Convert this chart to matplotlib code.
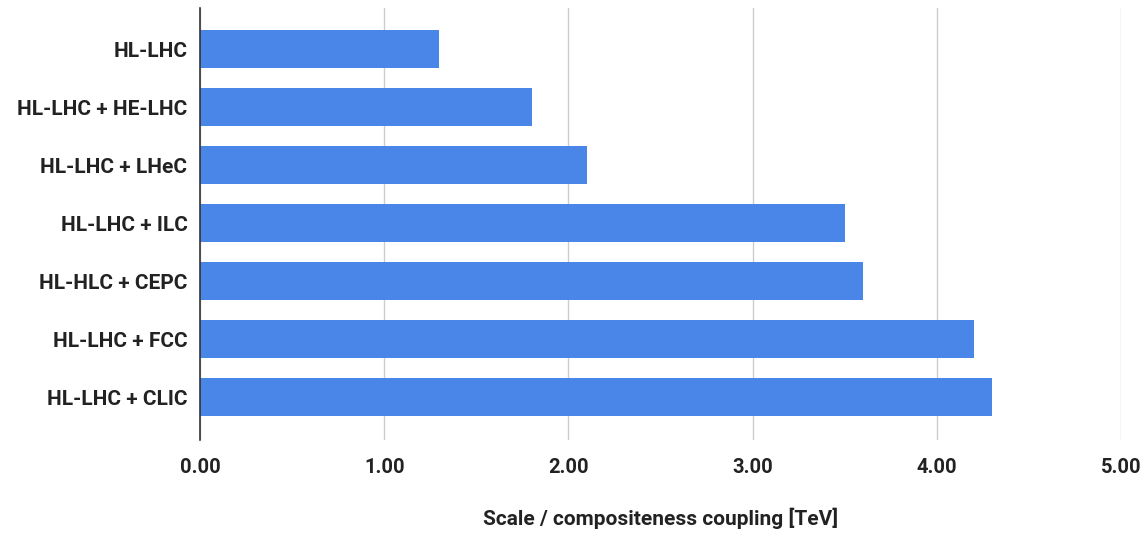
import matplotlib
matplotlib.use("Agg")
import matplotlib.pyplot as plt

categories = ["HL-LHC", "HL-LHC + HE-LHC", "HL-LHC + LHeC", "HL-LHC + ILC",
              "HL-HLC + CEPC", "HL-LHC + FCC", "HL-LHC + CLIC"]
values = [1.30, 1.80, 2.10, 3.50, 3.60, 4.20, 4.30]
xticks = [0, 1, 2, 3, 4, 5]
xticklabels = ["0.00", "1.00", "2.00", "3.00", "4.00", "5.00"]
xlabel = "Scale / compositeness coupling [TeV]"

plt.rcParams['font.family'] = ['Roboto', 'DejaVu Sans']

fig = plt.figure(figsize=(11.45, 5.33), dpi=100)
ax = fig.add_axes([200/1145, 1-440/533, (1121-200)/1145, (440-8)/533])

ypos = list(range(len(categories)))
ax.barh(ypos, values, height=0.66, color="#4a86e8", zorder=3)
ax.set_ylim(len(categories) - 1 + 0.74, -0.71)
ax.set_xlim(0, 5)
ax.set_yticks(ypos)
ax.set_yticklabels(categories, fontsize=15, fontweight='bold', color="#222222")
ax.set_xticks(xticks)
ax.set_xticklabels(xticklabels, fontsize=14.5, fontweight='bold', color="#222222")
ax.tick_params(axis='both', length=0)
ax.tick_params(axis='y', pad=9)
ax.tick_params(axis='x', pad=13)
ax.grid(axis='x', color="#cccccc", linewidth=1, zorder=0)
for s in ["top", "right", "bottom"]:
    ax.spines[s].set_visible(False)
ax.spines["left"].set_color("#333333")
ax.spines["left"].set_linewidth(1.2)
ax.spines["left"].set_zorder(4)
ax.set_xlabel(xlabel, fontsize=15, fontweight='bold', color="#222222", labelpad=22)

fig.savefig("out.png", dpi=100)
